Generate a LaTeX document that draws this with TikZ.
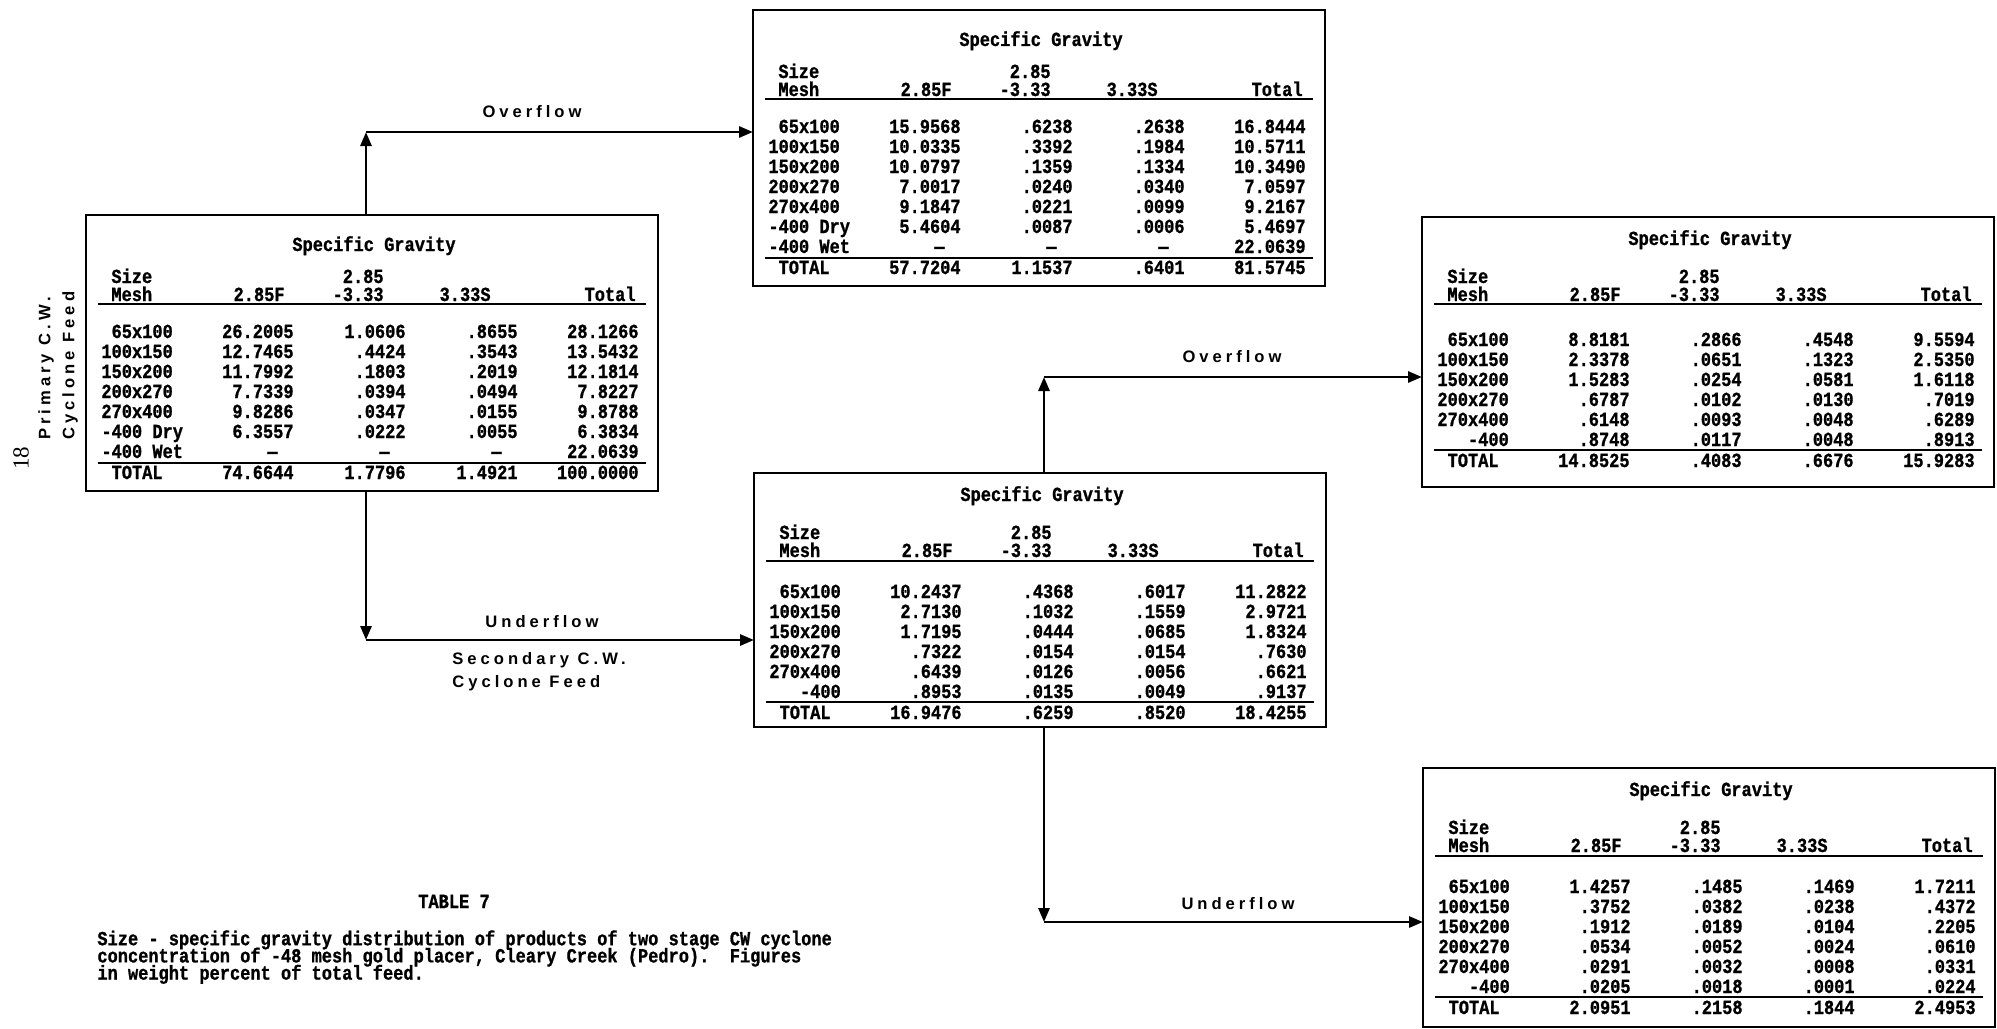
\documentclass[tikz,border=0pt]{standalone}
\usepackage{fontspec}
\usetikzlibrary{arrows.meta}
\newfontfamily\tabfont[FakeStretch=0.85,FakeBold=1]{Liberation Mono}
\newfontfamily\flowfont[LetterSpace=24]{Liberation Sans}
\newfontfamily\pagefont{Liberation Serif}
\newcommand\tightlines{\lineskiplimit=-100pt\relax}

\tikzset{
  px/.style={x=0.5pt,y=-0.5pt},
  tablebox/.style={draw, line width=1.3pt, inner sep=0pt, outer sep=0pt,
    anchor=north west, minimum width=286pt},
  cell/.style={inner sep=0pt, font=\tabfont\bfseries\fontsize{10}{12}\selectfont},
  captext/.style={inner sep=0pt, align=left,
    font=\tabfont\bfseries\fontsize{10}{8.6}\selectfont\tightlines},
  flowlabel/.style={inner sep=0pt, font=\flowfont\bfseries\fontsize{8.3}{10}\selectfont},
  flow/.style={line width=1.4pt, -{Triangle[length=7pt,width=5.5pt]}},
  tabrule/.style={line width=0.9pt},
}

% heading block of one table: name, title / size / header baselines, underline
\newcommand\ghead[5]{%
  \node[cell,anchor=base] (#1-title) at (288,#2) {Specific Gravity};
  \node[cell,anchor=base west] (#1-size) at (25,#3) {Size};
  \node[cell,anchor=base east] (#1-sg) at (298,#3) {2.85};
  \node[cell,anchor=base west] (#1-mesh) at (25,#4) {Mesh};
  \node[cell,anchor=base east] (#1-h1) at (199,#4) {2.85F};
  \node[cell,anchor=base east] (#1-h2) at (298,#4) {-3.33};
  \node[cell,anchor=base east] (#1-h3) at (405,#4) {3.33S};
  \node[cell,anchor=base east] (#1-h4) at (550,#4) {Total};
  \draw[tabrule] (12,#5) -- (560,#5);}

% one data row: table, row id, baseline, label, four values
\newcommand\grow[8]{%
  \node[cell,anchor=base west] (#1-#2-m) at (15,#3) {#4};
  \node[cell,anchor=base east] (#1-#2-a) at (208,#3) {#5};
  \node[cell,anchor=base east] (#1-#2-b) at (320,#3) {#6};
  \node[cell,anchor=base east] (#1-#2-c) at (432,#3) {#7};
  \node[cell,anchor=base east] (#1-#2-d) at (553,#3) {#8};}

% the "-400 Wet" row: table, baseline, total
\newcommand\wetrow[3]{%
  \node[cell,anchor=base west] (#1-wet-m) at (15,#2) {-400 Wet};
  \node[cell,anchor=base east] (#1-wet-a) at (192,#2) {—};
  \node[cell,anchor=base east] (#1-wet-b) at (304,#2) {—};
  \node[cell,anchor=base east] (#1-wet-c) at (416,#2) {—};
  \node[cell,anchor=base east] (#1-wet-d) at (553,#2) {#3};}

\begin{document}
\frenchspacing
\begin{tikzpicture}[px]
\useasboundingbox (0,0) rectangle (1997,1028);

% table frames
\node[tablebox, minimum height=138pt] (t1) at (86,215) {};
\node[tablebox, minimum height=138pt] (t2) at (753,10) {};
\node[tablebox, minimum height=135pt] (t3) at (1422,217) {};
\node[tablebox, minimum height=127pt] (t4) at (754,473) {};
\node[tablebox, minimum height=129.5pt] (t5) at (1423,768) {};

% primary feed
\begin{scope}[shift={(t1.north west)}]
  \ghead{t1}{36}{68}{86}{89}
  \grow{t1}{r1}{123}{\phantom{0}65x100}{26.2005}{1.0606}{.8655}{28.1266}
  \grow{t1}{r2}{143}{100x150}{12.7465}{.4424}{.3543}{13.5432}
  \grow{t1}{r3}{163}{150x200}{11.7992}{.1803}{.2019}{12.1814}
  \grow{t1}{r4}{183}{200x270}{7.7339}{.0394}{.0494}{7.8227}
  \grow{t1}{r5}{203}{270x400}{9.8286}{.0347}{.0155}{9.8788}
  \grow{t1}{r6}{223}{-400 Dry}{6.3557}{.0222}{.0055}{6.3834}
  \wetrow{t1}{243}{22.0639}
  \draw[tabrule] (12,248) -- (560,248);
  \grow{t1}{tot}{264}{\phantom{0}TOTAL}{74.6644}{1.7796}{1.4921}{100.0000}
\end{scope}

% primary overflow
\begin{scope}[shift={(t2.north west)}]
  \ghead{t2}{36}{68}{86}{89}
  \grow{t2}{r1}{123}{\phantom{0}65x100}{15.9568}{.6238}{.2638}{16.8444}
  \grow{t2}{r2}{143}{100x150}{10.0335}{.3392}{.1984}{10.5711}
  \grow{t2}{r3}{163}{150x200}{10.0797}{.1359}{.1334}{10.3490}
  \grow{t2}{r4}{183}{200x270}{7.0017}{.0240}{.0340}{7.0597}
  \grow{t2}{r5}{203}{270x400}{9.1847}{.0221}{.0099}{9.2167}
  \grow{t2}{r6}{223}{-400 Dry}{5.4604}{.0087}{.0006}{5.4697}
  \wetrow{t2}{243}{22.0639}
  \draw[tabrule] (12,248) -- (560,248);
  \grow{t2}{tot}{264}{\phantom{0}TOTAL}{57.7204}{1.1537}{.6401}{81.5745}
\end{scope}

% secondary overflow
\begin{scope}[shift={(t3.north west)}]
  \ghead{t3}{28}{66}{84}{87}
  \grow{t3}{r1}{129}{\phantom{0}65x100}{8.8181}{.2866}{.4548}{9.5594}
  \grow{t3}{r2}{149}{100x150}{2.3378}{.0651}{.1323}{2.5350}
  \grow{t3}{r3}{169}{150x200}{1.5283}{.0254}{.0581}{1.6118}
  \grow{t3}{r4}{189}{200x270}{.6787}{.0102}{.0130}{.7019}
  \grow{t3}{r5}{209}{270x400}{.6148}{.0093}{.0048}{.6289}
  \grow{t3}{r6}{229}{\phantom{000}-400}{.8748}{.0117}{.0048}{.8913}
  \draw[tabrule] (12,233) -- (560,233);
  \grow{t3}{tot}{250}{\phantom{0}TOTAL}{14.8525}{.4083}{.6676}{15.9283}
\end{scope}

% secondary feed
\begin{scope}[shift={(t4.north west)}]
  \ghead{t4}{28}{66}{84}{88}
  \grow{t4}{r1}{125}{\phantom{0}65x100}{10.2437}{.4368}{.6017}{11.2822}
  \grow{t4}{r2}{145}{100x150}{2.7130}{.1032}{.1559}{2.9721}
  \grow{t4}{r3}{165}{150x200}{1.7195}{.0444}{.0685}{1.8324}
  \grow{t4}{r4}{185}{200x270}{.7322}{.0154}{.0154}{.7630}
  \grow{t4}{r5}{205}{270x400}{.6439}{.0126}{.0056}{.6621}
  \grow{t4}{r6}{225}{\phantom{000}-400}{.8953}{.0135}{.0049}{.9137}
  \draw[tabrule] (12,229) -- (560,229);
  \grow{t4}{tot}{246}{\phantom{0}TOTAL}{16.9476}{.6259}{.8520}{18.4255}
\end{scope}

% secondary underflow
\begin{scope}[shift={(t5.north west)}]
  \ghead{t5}{28}{66}{84}{88}
  \grow{t5}{r1}{125}{\phantom{0}65x100}{1.4257}{.1485}{.1469}{1.7211}
  \grow{t5}{r2}{145}{100x150}{.3752}{.0382}{.0238}{.4372}
  \grow{t5}{r3}{165}{150x200}{.1912}{.0189}{.0104}{.2205}
  \grow{t5}{r4}{185}{200x270}{.0534}{.0052}{.0024}{.0610}
  \grow{t5}{r5}{205}{270x400}{.0291}{.0032}{.0008}{.0331}
  \grow{t5}{r6}{225}{\phantom{000}-400}{.0205}{.0018}{.0001}{.0224}
  \draw[tabrule] (12,229) -- (560,229);
  \grow{t5}{tot}{246}{\phantom{0}TOTAL}{2.0951}{.2158}{.1844}{2.4953}
\end{scope}

% flow connectors
\coordinate (c1) at (366,132);
\coordinate (c2) at (366,640);
\coordinate (c3) at (1044,377);
\coordinate (c4) at (1044,922);
\draw[flow] (t1.north -| c1) -- (c1);
\draw[flow] (c1) -- (t2.west |- c1);
\draw[flow] (t1.south -| c2) -- (c2);
\draw[flow] (c2) -- (t4.west |- c2);
\draw[flow] (t4.north -| c3) -- (c3);
\draw[flow] (c3) -- (t3.west |- c3);
\draw[flow] (t4.south -| c4) -- (c4);
\draw[flow] (c4) -- (t5.west |- c4);

% stream labels
\node[flowlabel] (ov1) at (532,112) {Overflow};
\node[flowlabel] (un1) at (542,622) {Underflow};
\node[flowlabel, anchor=west] (sec1) at (452,660) {Secondary C.W.};
\node[flowlabel, anchor=west] (sec2) at (452,683) {Cyclone Feed};
\node[flowlabel] (ov2) at (1232,357) {Overflow};
\node[flowlabel] (un2) at (1238,904) {Underflow};
\node[flowlabel, rotate=90, anchor=west] (prim1) at (46,440) {Primary C.W.};
\node[flowlabel, rotate=90, anchor=west] (prim2) at (70,440) {Cyclone Feed};
\node[inner sep=0pt, rotate=90, font=\pagefont\fontsize{11.5}{12}\selectfont] (page) at (21,458) {18};

% caption
\node[cell, anchor=base] (tab7) at (454,908) {TABLE 7};
\node[captext, anchor=north west] (cap) at (97,930)
  {Size - specific gravity distribution of products of two stage CW cyclone\\
   concentration of -48 mesh gold placer, Cleary Creek (Pedro).\ \ Figures\\
   in weight percent of total feed.};
\end{tikzpicture}
\end{document}
